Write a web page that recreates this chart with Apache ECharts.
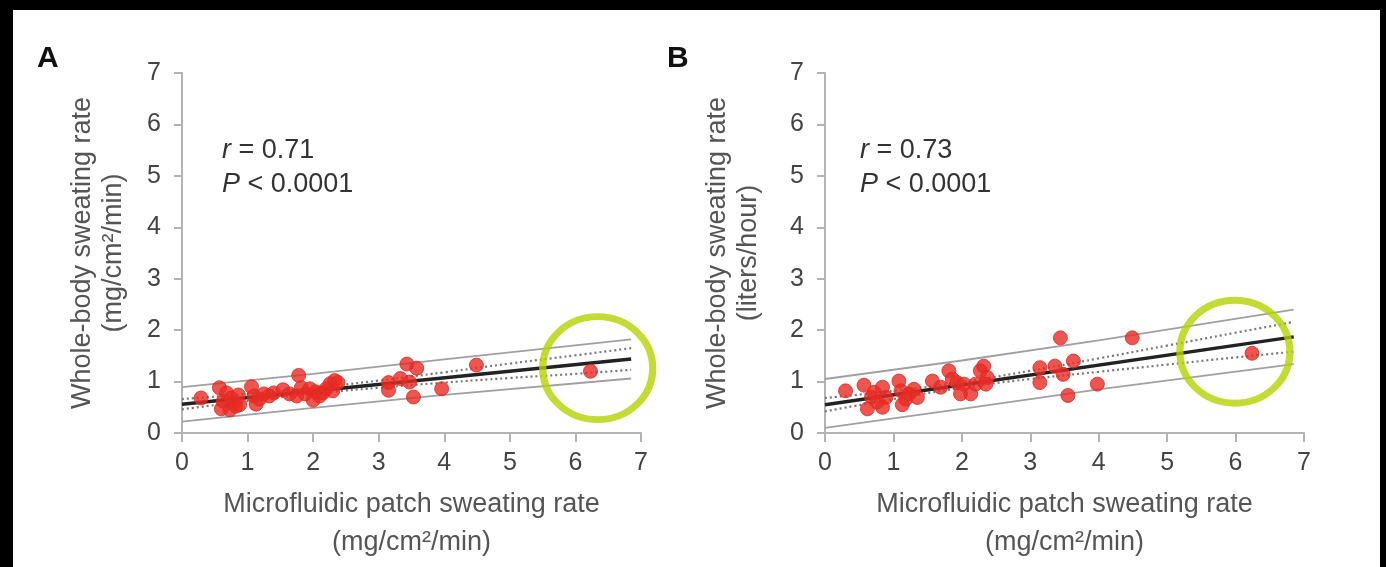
<!DOCTYPE html>
<html>
<head>
<meta charset="utf-8">
<title>Sweating rate correlation</title>
<script src="https://cdn.jsdelivr.net/npm/echarts@6/dist/echarts.min.js"></script>
<style>
  html, body { margin: 0; padding: 0; background: #fff; }
  #chart { width: 1386px; height: 567px; }
</style>
</head>
<body>
<div id="chart"></div>
<script>
// ---- Panel A: whole-body rate (mg/cm²/min) vs patch rate ----
const pointsA = [
  [0.29,0.68],[0.57,0.88],[0.60,0.47],[0.63,0.62],[0.68,0.78],[0.73,0.45],[0.75,0.68],
  [0.78,0.58],[0.82,0.52],[0.86,0.74],[0.88,0.55],[1.06,0.90],[1.10,0.72],[1.13,0.56],
  [1.18,0.66],[1.25,0.76],[1.33,0.72],[1.40,0.78],[1.54,0.84],[1.64,0.76],[1.75,0.72],
  [1.78,1.12],[1.82,0.88],[1.88,0.76],[1.95,0.86],[2.00,0.64],[2.04,0.80],[2.10,0.72],
  [2.15,0.78],[2.20,0.86],[2.26,0.96],[2.30,0.82],[2.33,1.02],[2.38,0.98],[3.15,0.98],
  [3.15,0.83],[3.33,1.06],[3.43,1.34],[3.47,0.99],[3.58,1.26],[3.53,0.70],[3.96,0.86],
  [4.49,1.32],[6.23,1.20]
];
const fitA      = [[0, 0.56], [6.85, 1.44]];
const confUpA   = [[0,0.66],[1,0.76],[2,0.875],[3,1.02],[4,1.18],[5,1.35],[6,1.51],[6.85,1.65]];
const confLoA   = [[0,0.46],[1,0.62],[2,0.765],[3,0.88],[4,0.98],[5,1.07],[6,1.15],[6.85,1.23]];
const predUpA   = [[0,0.89],[2,1.15],[4,1.43],[6.85,1.82]];
const predLoA   = [[0,0.22],[2,0.49],[4,0.74],[6.85,1.06]];
const markA     = [[6.34, 1.26]];

// ---- Panel B: whole-body rate (liters/hour) vs patch rate ----
const pointsB = [
  [0.30,0.82],[0.57,0.93],[0.62,0.47],[0.68,0.70],[0.72,0.79],[0.76,0.60],[0.84,0.89],
  [0.84,0.50],[0.89,0.69],[1.08,1.01],[1.11,0.82],[1.13,0.55],[1.18,0.66],[1.23,0.76],
  [1.30,0.85],[1.35,0.69],[1.57,1.01],[1.69,0.89],[1.81,1.21],[1.86,1.05],[1.93,0.98],
  [1.98,0.76],[2.03,0.95],[2.13,0.76],[2.20,0.95],[2.27,1.21],[2.32,1.30],[2.37,1.08],
  [2.35,0.95],[3.14,1.27],[3.14,0.98],[3.36,1.30],[3.44,1.85],[3.48,1.14],[3.63,1.40],
  [3.55,0.73],[3.98,0.95],[4.49,1.85],[6.24,1.55]
];
const fitB      = [[0, 0.55], [6.85, 1.87]];
const confUpB   = [[0,0.68],[1,0.82],[2,0.99],[3,1.21],[4,1.45],[5,1.70],[6,1.95],[6.85,2.16]];
const confLoB   = [[0,0.42],[1,0.66],[2,0.88],[3,1.05],[4,1.19],[5,1.33],[6,1.47],[6.85,1.58]];
const predUpB   = [[0,1.05],[2,1.41],[4,1.80],[6.85,2.40]];
const predLoB   = [[0,0.10],[2,0.47],[4,0.85],[6.85,1.34]];
const markB     = [[5.99, 1.58]];

const statsA = ['0.71', '0.0001'];
const statsB = ['0.73', '0.0001'];
const xTitle = 'Microfluidic patch sweating rate\n(mg/cm²/min)';
const yTitleA = 'Whole-body sweating rate\n(mg/cm²/min)';
const yTitleB = 'Whole-body sweating rate\n(liters/hour)';
const axisMin = 0, axisMax = 7, axisStep = 1;

const FONT = '"Liberation Sans", Arial, sans-serif';
const AXIS_GRAY = '#b3b3b3';
const LABEL_COLOR = '#444';
const TITLE_COLOR = '#555';

function mainX(grid) {
  return {
    type: 'value', gridIndex: grid, min: axisMin, max: axisMax, interval: axisStep,
    axisLine: { show: true, lineStyle: { color: AXIS_GRAY, width: 2 } },
    axisTick: { show: true, length: 9, lineStyle: { color: AXIS_GRAY, width: 2 } },
    axisLabel: { fontSize: 25, color: LABEL_COLOR, fontFamily: FONT, margin: 18 },
    splitLine: { show: false },
    name: xTitle, nameLocation: 'middle', nameGap: 53,
    nameTextStyle: { fontSize: 27, color: TITLE_COLOR, fontFamily: FONT, lineHeight: 38 }
  };
}
function innerX(grid) {
  return {
    type: 'value', gridIndex: grid, min: axisMin, max: axisMax, interval: axisStep,
    axisLine: { show: false },
    axisTick: { show: true, inside: true, length: 6, lineStyle: { color: AXIS_GRAY, width: 2 } },
    axisLabel: { show: false }, splitLine: { show: false }
  };
}
function mainY(grid, title, gap) {
  return {
    type: 'value', gridIndex: grid, min: axisMin, max: axisMax, interval: axisStep,
    axisLine: { show: true, lineStyle: { color: AXIS_GRAY, width: 2 } },
    axisTick: { show: true, length: 8, lineStyle: { color: AXIS_GRAY, width: 2 } },
    axisLabel: { fontSize: 25, color: LABEL_COLOR, fontFamily: FONT, margin: 21 },
    splitLine: { show: false },
    name: title, nameLocation: 'middle', nameGap: gap,
    nameTextStyle: { fontSize: 27, color: TITLE_COLOR, fontFamily: FONT, lineHeight: 31 }
  };
}
function innerY(grid) {
  return {
    type: 'value', gridIndex: grid, min: axisMin, max: axisMax, interval: axisStep,
    axisLine: { show: false },
    axisTick: { show: true, inside: true, length: 8, lineStyle: { color: AXIS_GRAY, width: 2 } },
    axisLabel: { show: false }, splitLine: { show: false }
  };
}

function panelSeries(axisIdx, pts, fit, cu, cl, pu, pl, mark) {
  const base = { xAxisIndex: axisIdx, yAxisIndex: axisIdx, silent: true, animation: false };
  const band = (data) => Object.assign({}, base, {
    type: 'line', data, showSymbol: false, smooth: false, z: 2,
    lineStyle: { color: '#a0a0a0', width: 1.8 }
  });
  const conf = (data) => Object.assign({}, base, {
    type: 'line', data, showSymbol: false, smooth: true, z: 2,
    lineStyle: { color: '#787878', width: 2.2, type: [2, 3] }
  });
  return [
    band(pu), band(pl), conf(cu), conf(cl),
    Object.assign({}, base, {
      type: 'line', data: fit, showSymbol: false, z: 3,
      lineStyle: { color: '#222', width: 3.4 }
    }),
    Object.assign({}, base, {
      type: 'scatter', data: pts, symbolSize: 14, z: 4,
      itemStyle: { color: '#e82a24', borderColor: '#dc2a22', borderWidth: 1 }
    }),
    Object.assign({}, base, {
      type: 'scatter', data: mark, symbol: 'circle', symbolSize: [110, 103], z: 5,
      itemStyle: { color: 'rgba(0,0,0,0)', borderColor: '#b4d200', borderWidth: 7 }
    })
  ];
}

function statText(left, top, r, p) {
  const rich = { i: { fontStyle: 'italic', fontSize: 27, fill: '#333', fontFamily: FONT } };
  return [
    { type: 'text', left, top, style: { text: '{i|r} = ' + r, fill: '#333', font: '27px ' + FONT, rich } },
    { type: 'text', left, top: top + 34, style: { text: '{i|P} < ' + p, fill: '#333', font: '27px ' + FONT, rich } }
  ];
}

const chart = echarts.init(document.getElementById('chart'), null, { renderer: 'canvas' });
chart.setOption({
  backgroundColor: '#ffffff',
  animation: false,
  grid: [
    { left: 182, top: 73, width: 459, height: 365 },
    { left: 825, top: 73, width: 479, height: 363 }
  ],
  xAxis: [mainX(0), mainX(1), innerX(0), innerX(1)],
  yAxis: [mainY(0, yTitleA, 53), mainY(1, yTitleB, 61), innerY(0), innerY(1)],
  series: [].concat(
    panelSeries(0, pointsA, fitA, confUpA, confLoA, predUpA, predLoA, markA),
    panelSeries(1, pointsB, fitB, confUpB, confLoB, predUpB, predLoB, markB)
  ),
  graphic: [
    // dark frame around the figure
    { type: 'rect', left: 0, top: 0, shape: { width: 1386, height: 10 }, style: { fill: '#000' } },
    { type: 'rect', left: 0, top: 0, shape: { width: 13, height: 567 }, style: { fill: '#000' } },
    { type: 'rect', right: 0, top: 0, shape: { width: 6, height: 567 }, style: { fill: '#000' } },
    // panel letters
    { type: 'text', left: 37, top: 44, style: { text: 'A', font: 'bold 30px ' + FONT, fill: '#111' } },
    { type: 'text', left: 667, top: 44, style: { text: 'B', font: 'bold 30px ' + FONT, fill: '#111' } }
  ].concat(statText(222, 137, statsA[0], statsA[1]), statText(860, 137, statsB[0], statsB[1]))
});
</script>
</body>
</html>
